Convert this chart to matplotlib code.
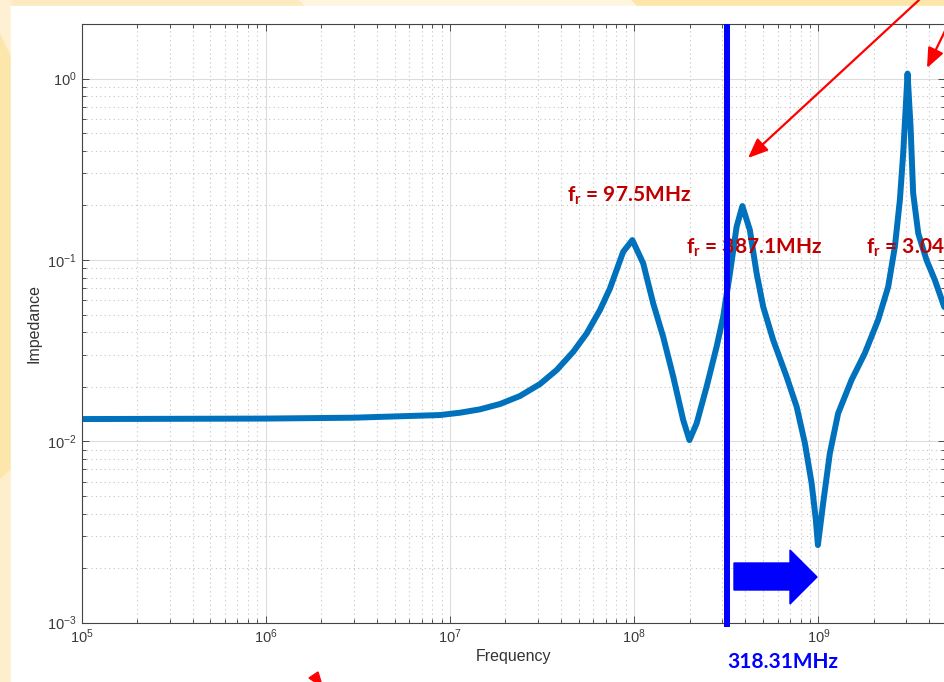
import matplotlib.pyplot as plt
import numpy as np
from matplotlib.patches import Polygon, Rectangle, FancyArrowPatch
from matplotlib.ticker import LogLocator, NullFormatter

# impedance curve
freq = [1e5, 1e6, 3e6, 8.81e6, 1.132e7, 1.454e7, 1.867e7, 2.397e7, 3.079e7, 3.793e7,
        4.669e7, 5.52e7, 6.517e7, 7.386e7, 8.02e7, 8.71e7, 9.77e7, 1.119e8, 1.268e8,
        1.436e8, 1.629e8, 1.845e8, 1.995e8, 2.183e8, 2.472e8, 2.801e8, 3.042e8,
        3.309e8, 3.597e8, 3.866e8, 4.246e8, 4.62e8, 5.016e8, 5.684e8, 6.72e8, 7.62e8,
        8.45e8, 9.19e8, 9.69e8, 9.94e8, 1.061e9, 1.154e9, 1.28e9, 1.513e9, 1.786e9,
        2.11e9, 2.393e9, 2.602e9, 2.77e9, 2.887e9, 2.975e9, 3.049e9, 3.166e9, 3.271e9,
        3.485e9, 3.867e9, 4.29e9, 4.82e9, 4.9e9]
impedance = [0.01327, 0.01335, 0.0135, 0.01396, 0.01438, 0.01501, 0.01606, 0.01778,
             0.0207, 0.02472, 0.03119, 0.03936, 0.05297, 0.06969, 0.08796, 0.1109,
             0.1287, 0.0958, 0.0576, 0.03773, 0.02271, 0.0131, 0.01016, 0.01257,
             0.02, 0.03321, 0.04863, 0.08436, 0.1524, 0.1982, 0.1462, 0.0844, 0.0552,
             0.03615, 0.02271, 0.01552, 0.00975, 0.00587, 0.00368, 0.00268, 0.00455,
             0.00859, 0.01426, 0.02178, 0.03055, 0.04664, 0.07112, 0.1183, 0.214,
             0.3871, 0.6703, 1.066, 0.5425, 0.2329, 0.1402, 0.0998, 0.0775, 0.0552,
             0.0545]

cutoff_freq = 318.31e6
cutoff_label = '318.31MHz'
res_labels = ['97.5MHz', '387.1MHz', '3.04GHz']

plt.rcParams['font.family'] = ['Liberation Sans', 'DejaVu Sans']
plt.rcParams['mathtext.fontset'] = 'custom'
plt.rcParams['mathtext.bf'] = 'Lato:bold'
plt.rcParams['mathtext.rm'] = 'Liberation Sans'

W, H = 945, 682
fig = plt.figure(figsize=(W / 100, H / 100), dpi=100)
fig.patch.set_facecolor('#FCE6AA')

def px(x, y):
	return (x / W, 1 - y / H)

# slide background
fig.add_artist(Polygon([px(0, 0), px(300, 0), px(306, 6), px(0, 6)], closed=True,
                       transform=fig.transFigure, color='#FCEBBE', zorder=-3))
fig.add_artist(Polygon([px(300, 0), px(630, 0), px(636, 6), px(306, 6)], closed=True,
                       transform=fig.transFigure, color='#FEF5E0', zorder=-3))
fig.add_artist(Polygon([px(0, 0), px(11, 0), px(11, 55), px(0, 32)], closed=True,
                       transform=fig.transFigure, color='#FEF1D3', zorder=-3))
fig.add_artist(Polygon([px(0, 480), px(11, 470), px(11, 682), px(0, 682)], closed=True,
                       transform=fig.transFigure, color='#FDEFCB', zorder=-3))
fig.add_artist(Rectangle(px(11, 682), (W - 11) / W, (H - 6) / H,
                         transform=fig.transFigure, color='white', zorder=-2))

ax = fig.add_axes([81.7 / W, 1 - 622.7 / H, (945.5 - 81.7) / W, (622.7 - 24) / H])
ax.plot(freq, impedance, color='#0072BD', linewidth=4.3, solid_joinstyle='round',
        solid_capstyle='round', zorder=2)
ax.set_xscale('log')
ax.set_yscale('log')
ax.set_xlim(1e5, 4.9e9)
ax.set_ylim(1e-3, 2)

ax.xaxis.set_major_locator(LogLocator(base=10, numticks=20))
ax.yaxis.set_major_locator(LogLocator(base=10, numticks=20))
ax.xaxis.set_minor_locator(LogLocator(base=10, subs=np.arange(2, 10), numticks=50))
ax.yaxis.set_minor_locator(LogLocator(base=10, subs=np.arange(2, 10), numticks=50))
ax.xaxis.set_minor_formatter(NullFormatter())
ax.yaxis.set_minor_formatter(NullFormatter())

ax.set_axisbelow(True)
ax.grid(True, which='major', color='#dcdcdc', linewidth=0.8, linestyle='-')
ax.grid(True, which='minor', color='#c4c4c4', linewidth=0.8, linestyle=(0, (1, 3)))
ax.tick_params(which='both', direction='in', top=True, right=True, color='#333333',
               labelcolor='#3a3a3a', labelsize=10.5, width=0.6)
ax.tick_params(which='major', length=5)
ax.tick_params(which='minor', length=3)
for s in ax.spines.values():
	s.set_color('#444444')
	s.set_linewidth(0.8)

ax.set_xlabel('Frequency', fontsize=11.5, color='#333333', labelpad=2)
ax.set_ylabel('Impedance', fontsize=11.5, color='#333333', labelpad=4)

# resonance labels
label_pos = [(567, 201), (686, 253), (866, 253)]
for (x, y), lab in zip(label_pos, res_labels):
	ax.text(*px(x, y), r'f$_{\mathbf{r}}$ = ' + lab, transform=fig.transFigure,
	        color='#C00000', fontsize=15, fontweight='bold', family=['Lato', 'DejaVu Sans'],
	        ha='left', va='baseline', zorder=3, clip_on=False)

# cutoff marker
ax.plot([cutoff_freq, cutoff_freq], [9.46e-4, 2], color='#0000FF', linewidth=4.3,
        clip_on=False, zorder=4, solid_capstyle='butt')
fig.text(*px(727, 668), cutoff_label, color='#0000FF', fontsize=15, fontweight='bold',
         family=['Lato', 'DejaVu Sans'], ha='left', va='baseline')

fig.add_artist(Polygon([px(734, 563), px(790, 563), px(790, 550), px(817, 577),
                        px(790, 604), px(790, 590), px(734, 590)], closed=True,
                       transform=fig.transFigure, color='#0000FF', zorder=5))

# red callout arrows
for a, b in [((919, 0), (748, 158)), ((960, 0), (927, 68))]:
	fig.add_artist(FancyArrowPatch(px(*a), px(*b), transform=fig.transFigure,
	                               arrowstyle='-|>,head_length=1.2,head_width=0.5',
	                               mutation_scale=10, color='#FF0000', linewidth=1.6,
	                               shrinkA=0, shrinkB=0, zorder=6))
fig.add_artist(Polygon([px(309, 678), px(318, 672), px(321, 682), px(315, 682)], closed=True,
                       transform=fig.transFigure, color='#FF0000', zorder=6))

plt.savefig('out.png', dpi=100, facecolor=fig.get_facecolor())
